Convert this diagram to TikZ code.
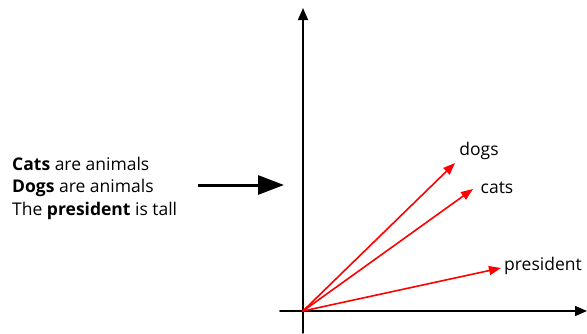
\documentclass[tikz,border=0pt]{standalone}
\usepackage{fontspec}
\setmainfont{Open Sans}
\usetikzlibrary{arrows.meta}
\begin{document}
\begin{tikzpicture}[x=1pt,y=-1pt,line cap=round,line join=round,font=\fontsize{17.5}{22.5}\selectfont]
	\useasboundingbox (0,0) rectangle (587,333);
	\tikzset{axis/.style={line width=1.6pt,-{Triangle[length=12pt,width=10pt]}},
		vec/.style={red,line width=1.6pt,-{Triangle[length=12pt,width=9pt]}}}
	% axes
	\coordinate (o) at (303,311);
	\coordinate (xl) at (280,311);\coordinate (xr) at (587,311);
	\coordinate (yb) at (303,333);\coordinate (yt) at (303,8);
	\draw[axis] (xl) -- (xr);
	\draw[axis] (yb) -- (yt);
	% sentences
	\node[anchor=west,align=left,inner sep=0pt] (sent) at (12,188) {\textbf{Cats} are animals\\\textbf{Dogs} are animals\\The \textbf{president} is tall};
	\coordinate (from) at (198,185);\coordinate (to) at (284,185);
	\draw[line width=3pt,line cap=butt,-{Triangle[length=26pt,width=19pt]}] (from) -- (to);
	% word vectors
	\foreach \w/\tx/\ty/\lx/\ly in {dogs/455/163/479/151,cats/473/189/497/188,president/501/268/543/266}{
		\coordinate (\w tip) at (\tx,\ty);
		\node (\w) at (\lx,\ly) {\w};
		\draw[vec] (o) -- (\w tip);
	}
\end{tikzpicture}
\end{document}
